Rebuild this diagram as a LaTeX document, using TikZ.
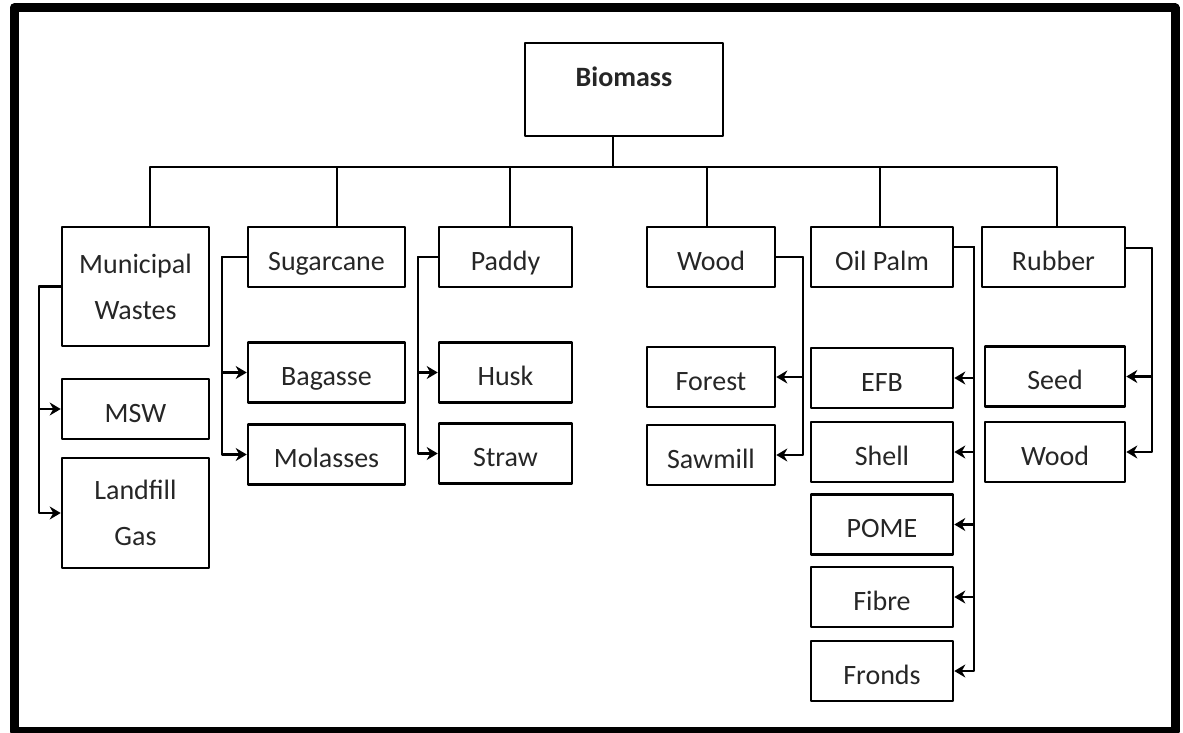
\documentclass[tikz,border=0pt]{standalone}
\usepackage{fontspec}
\setmainfont{Carlito}
\usetikzlibrary{arrows.meta}
\begin{document}
\begin{tikzpicture}[x=0.5pt,y=-0.5pt,line join=round,
  box/.style={draw,line width=1.3pt,inner sep=0pt,minimum height=30pt,align=center,
    text=black!85,font=\fontsize{14}{23}\selectfont},
  one/.style={box,text height=15pt,text depth=2pt},
  link/.style={line width=1.1pt},
  arr/.style={link,-{Stealth[length=5.5pt,width=6.5pt]}}]
\useasboundingbox (0,0) rectangle (1183,733);
\draw[line width=4.5pt] (14,8) rectangle (1175,731);
% root
\node[box,minimum width=99pt,text height=22pt,text depth=24.5pt,font=\fontsize{14}{23}\selectfont\bfseries] (bio) at (624,89.5) {Biomass};
% sources
\node[box,minimum width=73.5pt,minimum height=59.5pt] (muni) at (135.5,286.5) {Municipal\\Wastes};
\foreach \n/\x/\w/\t in {sug/326.5/78.5/Sugarcane,pad/505.5/66.5/Paddy,wood/711/64/Wood,oil/882/71/Oil Palm,rub/1053.5/71.5/Rubber}
  \node[one,minimum width=\w pt] (\n) at (\x,257) {\t};
% products
\node[box,minimum width=73.5pt,minimum height=55pt] (gas) at (135.5,513) {Landfill\\Gas};
\foreach \n/\x/\y/\w/\t in {msw/135.5/409/73.5/MSW,bag/326.5/372.5/78.5/Bagasse,mol/326.5/454.5/78.5/Molasses,
  husk/505.5/372.5/66.5/Husk,straw/505.5/453.5/66.5/Straw,forest/711/377/64/Forest,saw/711/455/64/Sawmill,
  efb/882/378/71/EFB,shell/882/452/71/Shell,pome/882/524.5/71/POME,fibre/882/597/71/Fibre,fronds/882/671/71/Fronds,
  seed/1055/376.5/70/Seed,rwood/1055/452/70/Wood}
  \node[one,minimum width=\w pt] (\n) at (\x,\y) {\t};
% tree
\coordinate (bus) at (613,167);
\draw[link] ([xshift=-5.5pt]bio.south) -- (bus);
\foreach \n/\s in {muni/7.25,sug/5.25,pad/2.25,wood/-2,oil/-1,rub/1.75}
  \draw[link] ([xshift=\s pt]\n.north) |- (bus);
% fans
\foreach \p/\d/\c in {muni/-22/msw,muni/-22/gas,sug/-25/bag,sug/-25/mol,pad/-20/husk,pad/-20/straw}
  \draw[arr] (\p.west) -- ++(\d,0) |- (\c.west);
\foreach \p/\s/\d/\c in {wood/0/27/forest,wood/0/27/saw,oil/5/20/efb,oil/5/20/shell,oil/5/20/pome,
  oil/5/20/fibre,oil/5/20/fronds,rub/4.5/26/seed,rub/4.5/26/rwood}
  \draw[arr] ([yshift=\s pt]\p.east) -- ++(\d,0) |- (\c.east);
\end{tikzpicture}
\end{document}
